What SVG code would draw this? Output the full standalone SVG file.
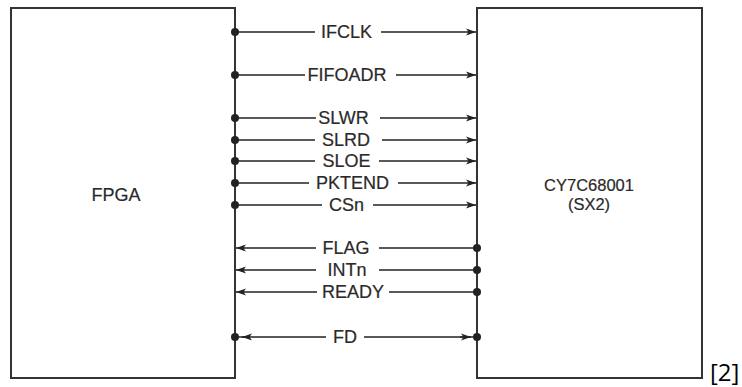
<svg xmlns="http://www.w3.org/2000/svg" width="742" height="387" viewBox="0 0 742 387">
<style>
.box{fill:#fff;stroke:#333;stroke-width:2}
.ln{stroke:#222;stroke-width:1.4;fill:none}
.dot{fill:#222}
.lbl{font-family:"Liberation Sans",Arial,sans-serif;font-size:18px;fill:#2a2a2a;stroke:#2a2a2a;stroke-width:0.2;text-anchor:middle}
.sm{font-size:16.5px}
.ref{font-family:"Open Sans",sans-serif;font-size:24px;fill:#000}
</style>
<defs>
<marker id="ah" markerUnits="userSpaceOnUse" viewBox="0 0 10 8" refX="10" refY="4" markerWidth="10" markerHeight="8" orient="auto-start-reverse">
<path d="M0,0.4 L10,4 L0,7.6 L2.5,4 Z" fill="#222"/>
</marker>
</defs>
<rect x="0" y="0" width="742" height="387" fill="#fff"/>
<g id="fpga">
<rect class="box" x="11" y="8" width="224" height="370"/>
<text class="lbl" x="116" y="201">FPGA</text>
</g>
<g id="sx2">
<rect class="box" x="477" y="8" width="225" height="370"/>
<text class="lbl sm" x="589" y="191">CY7C68001</text>
<text class="lbl sm" x="589" y="210">(SX2)</text>
</g>
<g id="connectors">
<g id="ifclk"><line class="ln" x1="235" y1="32" x2="315" y2="32"/><line class="ln" x1="381" y1="32" x2="476" y2="32" marker-end="url(#ah)"/><circle class="dot" cx="235" cy="32" r="4"/><text class="lbl" x="346.5" y="38">IFCLK</text></g>
<g id="fifoadr"><line class="ln" x1="235" y1="75" x2="305" y2="75"/><line class="ln" x1="396" y1="75" x2="476" y2="75" marker-end="url(#ah)"/><circle class="dot" cx="235" cy="75" r="4"/><text class="lbl" x="347" y="81">FIFOADR</text></g>
<g id="slwr"><line class="ln" x1="235" y1="118" x2="316" y2="118"/><line class="ln" x1="380" y1="118" x2="476" y2="118" marker-end="url(#ah)"/><circle class="dot" cx="235" cy="118" r="4"/><text class="lbl" x="343.5" y="124">SLWR</text></g>
<g id="slrd"><line class="ln" x1="235" y1="140" x2="315" y2="140"/><line class="ln" x1="382" y1="140" x2="476" y2="140" marker-end="url(#ah)"/><circle class="dot" cx="235" cy="140" r="4"/><text class="lbl" x="346" y="146">SLRD</text></g>
<g id="sloe"><line class="ln" x1="235" y1="161" x2="315" y2="161"/><line class="ln" x1="379" y1="161" x2="476" y2="161" marker-end="url(#ah)"/><circle class="dot" cx="235" cy="161" r="4"/><text class="lbl" x="346.5" y="167">SLOE</text></g>
<g id="pktend"><line class="ln" x1="235" y1="183" x2="309" y2="183"/><line class="ln" x1="398" y1="183" x2="476" y2="183" marker-end="url(#ah)"/><circle class="dot" cx="235" cy="183" r="4"/><text class="lbl" x="352.5" y="189">PKTEND</text></g>
<g id="csn"><line class="ln" x1="235" y1="205" x2="322" y2="205"/><line class="ln" x1="373" y1="205" x2="476" y2="205" marker-end="url(#ah)"/><circle class="dot" cx="235" cy="205" r="4"/><text class="lbl" x="346.5" y="211">CSn</text></g>
<g id="flag"><line class="ln" x1="236" y1="248" x2="316" y2="248" marker-start="url(#ah)"/><line class="ln" x1="379" y1="248" x2="477" y2="248"/><circle class="dot" cx="477" cy="248" r="4"/><text class="lbl" x="346" y="254">FLAG</text></g>
<g id="intn"><line class="ln" x1="236" y1="270" x2="316" y2="270" marker-start="url(#ah)"/><line class="ln" x1="379" y1="270" x2="477" y2="270"/><circle class="dot" cx="477" cy="270" r="4"/><text class="lbl" x="347" y="276">INTn</text></g>
<g id="ready"><line class="ln" x1="236" y1="292" x2="317" y2="292" marker-start="url(#ah)"/><line class="ln" x1="389" y1="292" x2="477" y2="292"/><circle class="dot" cx="477" cy="292" r="4"/><text class="lbl" x="353" y="298">READY</text></g>
<g id="fd"><line class="ln" x1="235" y1="337" x2="326" y2="337"/><line class="ln" x1="242" y1="337" x2="250" y2="337" marker-start="url(#ah)"/><line class="ln" x1="364" y1="337" x2="477" y2="337"/><line class="ln" x1="460" y1="337" x2="471" y2="337" marker-end="url(#ah)"/><circle class="dot" cx="235" cy="337" r="4"/><circle class="dot" cx="477" cy="337" r="4"/><text class="lbl" x="345" y="343">FD</text></g>
</g>
<text class="ref" x="710" y="381">[2]</text>
</svg>
